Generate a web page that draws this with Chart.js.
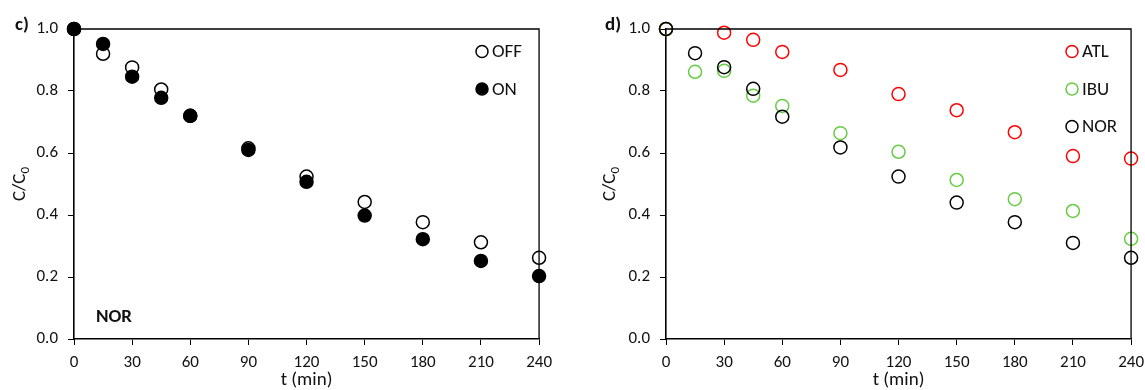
<!DOCTYPE html>
<html>
<head>
<meta charset="utf-8">
<script src="https://cdn.jsdelivr.net/npm/chart.js@4"></script>
<style>
  body { margin: 0; background: #fff; overflow: hidden; }
  .panel { position: absolute; top: 0; }
</style>
</head>
<body>
<div class="panel" style="left:0"><canvas id="grafC" width="560" height="390"></canvas></div>
<div class="panel" style="left:560px"><canvas id="grafD" width="592" height="390"></canvas></div>
<script>
// datos
const tiempos = [0, 15, 30, 45, 60, 90, 120, 150, 180, 210, 240];
const norOff = [1.0, 0.92, 0.876, 0.805, 0.72, 0.615, 0.524, 0.442, 0.377, 0.312, 0.262];
const norOn  = [1.0, 0.952, 0.846, 0.778, 0.72, 0.61, 0.507, 0.398, 0.322, 0.252, 0.203];
const atl = [1.0, null, 0.988, 0.965, 0.926, 0.868, 0.79, 0.738, 0.667, 0.59, 0.582];
const ibu = [1.0, 0.862, 0.865, 0.785, 0.752, 0.664, 0.604, 0.513, 0.451, 0.413, 0.323];
const nor = [1.0, 0.922, 0.877, 0.807, 0.717, 0.618, 0.524, 0.44, 0.377, 0.31, 0.262];
const xTicks = [0, 30, 60, 90, 120, 150, 180, 210, 240];
const yTicks = [0.0, 0.2, 0.4, 0.6, 0.8, 1.0];

const FUENTE = "Carlito, Lato, 'Liberation Sans', sans-serif";

function puntos(valores) {
  return tiempos.map((t, i) => ({ x: t, y: valores[i] })).filter(p => p.y !== null);
}

// dibuja marco, titulos, leyenda y etiquetas
const extras = {
  id: "extras",
  afterDraw(chart, args, opts) {
    const c = chart.ctx;
    const a = chart.chartArea;
    c.save();
    // marco superior y derecho
    c.strokeStyle = "#000";
    c.lineWidth = 1.3;
    c.beginPath();
    c.moveTo(a.left, a.top);
    c.lineTo(a.right, a.top);
    c.lineTo(a.right, a.bottom);
    c.stroke();

    c.fillStyle = "#111";
    // letra del panel
    c.font = "bold 19px " + FUENTE;
    c.textAlign = "left";
    c.textBaseline = "middle";
    c.fillText(opts.letra, opts.letraX, 25);

    // titulo eje x
    c.font = "19px " + FUENTE;
    c.textAlign = "center";
    c.fillText("t (min)", (a.left + a.right) / 2, 380);

    // titulo eje y con subindice
    c.save();
    c.translate(opts.yTitX, (a.top + a.bottom) / 2);
    c.rotate(-Math.PI / 2);
    c.font = "19px " + FUENTE;
    const w1 = c.measureText("C/C").width;
    c.font = "13px " + FUENTE;
    const w2 = c.measureText("0").width;
    c.textAlign = "left";
    c.font = "19px " + FUENTE;
    c.fillText("C/C", -(w1 + w2) / 2, 0);
    c.font = "13px " + FUENTE;
    c.fillText("0", -(w1 + w2) / 2 + w1, 6);
    c.restore();

    // anotacion
    if (opts.nota) {
      c.font = "bold 19px " + FUENTE;
      c.textAlign = "left";
      c.fillText(opts.nota, a.left + 22, 317);
    }

    // leyenda
    const ds = chart.data.datasets;
    ds.forEach((d, i) => {
      const y = 51.5 + i * 37.5;
      c.beginPath();
      c.arc(opts.legX, y, 6, 0, Math.PI * 2);
      c.fillStyle = d.pointBackgroundColor;
      c.fill();
      c.lineWidth = 1.5;
      c.strokeStyle = d.pointBorderColor;
      c.stroke();
      c.fillStyle = "#111";
      c.font = "19px " + FUENTE;
      c.textAlign = "left";
      c.fillText(d.label, opts.legX + 10, y + 1);
    });
    c.restore();
  }
};

function escalas(anchoY) {
  return {
    x: {
      type: "linear",
      min: 0,
      max: 240,
      afterBuildTicks: (s) => { s.ticks = xTicks.map(v => ({ value: v })); },
      afterFit: (s) => { s.height = 51; },
      ticks: { color: "#111", font: { family: FUENTE, size: 17 }, padding: 8, maxRotation: 0 },
      grid: { drawOnChartArea: false, drawTicks: true, tickLength: 6, color: "#000", lineWidth: 1 },
      border: { display: true, color: "#000", width: 1.6 }
    },
    y: {
      type: "linear",
      min: 0,
      max: 1,
      afterBuildTicks: (s) => { s.ticks = yTicks.map(v => ({ value: v })); },
      afterFit: (s) => { s.width = anchoY; },
      ticks: { color: "#111", font: { family: FUENTE, size: 17 }, padding: 10, callback: (v) => v.toFixed(1) },
      grid: { drawOnChartArea: false, drawTicks: true, tickLength: 6, color: "#000", lineWidth: 1 },
      border: { display: true, color: "#000", width: 1.6 }
    }
  };
}

function serie(label, valores, borde, relleno, orden) {
  return {
    label: label,
    data: puntos(valores),
    pointRadius: 6.5,
    pointHoverRadius: 6.5,
    pointBorderWidth: 1.5,
    pointBorderColor: borde,
    pointBackgroundColor: relleno,
    borderColor: borde,
    backgroundColor: relleno,
    showLine: false,
    order: orden
  };
}

const graficoC = new Chart(document.getElementById("grafC"), {
  type: "scatter",
  data: {
    datasets: [
      serie("OFF", norOff, "#000", "#fff", 1),
      serie("ON", norOn, "#000", "#000", 0)
    ]
  },
  options: {
    responsive: false,
    animation: false,
    clip: false,
    layout: { padding: { left: 0, top: 29, right: 19, bottom: 0 } },
    scales: escalas(74),
    plugins: {
      legend: { display: false },
      tooltip: { enabled: false },
      extras: { letra: "c)", letraX: 15, yTitX: 20, nota: "NOR", legX: 482 }
    }
  },
  plugins: [extras]
});

const graficoD = new Chart(document.getElementById("grafD"), {
  type: "scatter",
  data: {
    datasets: [
      serie("ATL", atl, "#ff0000", "rgba(0,0,0,0)", 2),
      serie("IBU", ibu, "#66cc44", "rgba(0,0,0,0)", 1),
      serie("NOR", nor, "#000", "rgba(0,0,0,0)", 0)
    ]
  },
  options: {
    responsive: false,
    animation: false,
    clip: false,
    layout: { padding: { left: 0, top: 29, right: 14, bottom: 0 } },
    scales: escalas(106),
    plugins: {
      legend: { display: false },
      tooltip: { enabled: false },
      extras: { letra: "d)", letraX: 45, yTitX: 50, nota: null, legX: 512 }
    }
  },
  plugins: [extras]
});
</script>
</body>
</html>
